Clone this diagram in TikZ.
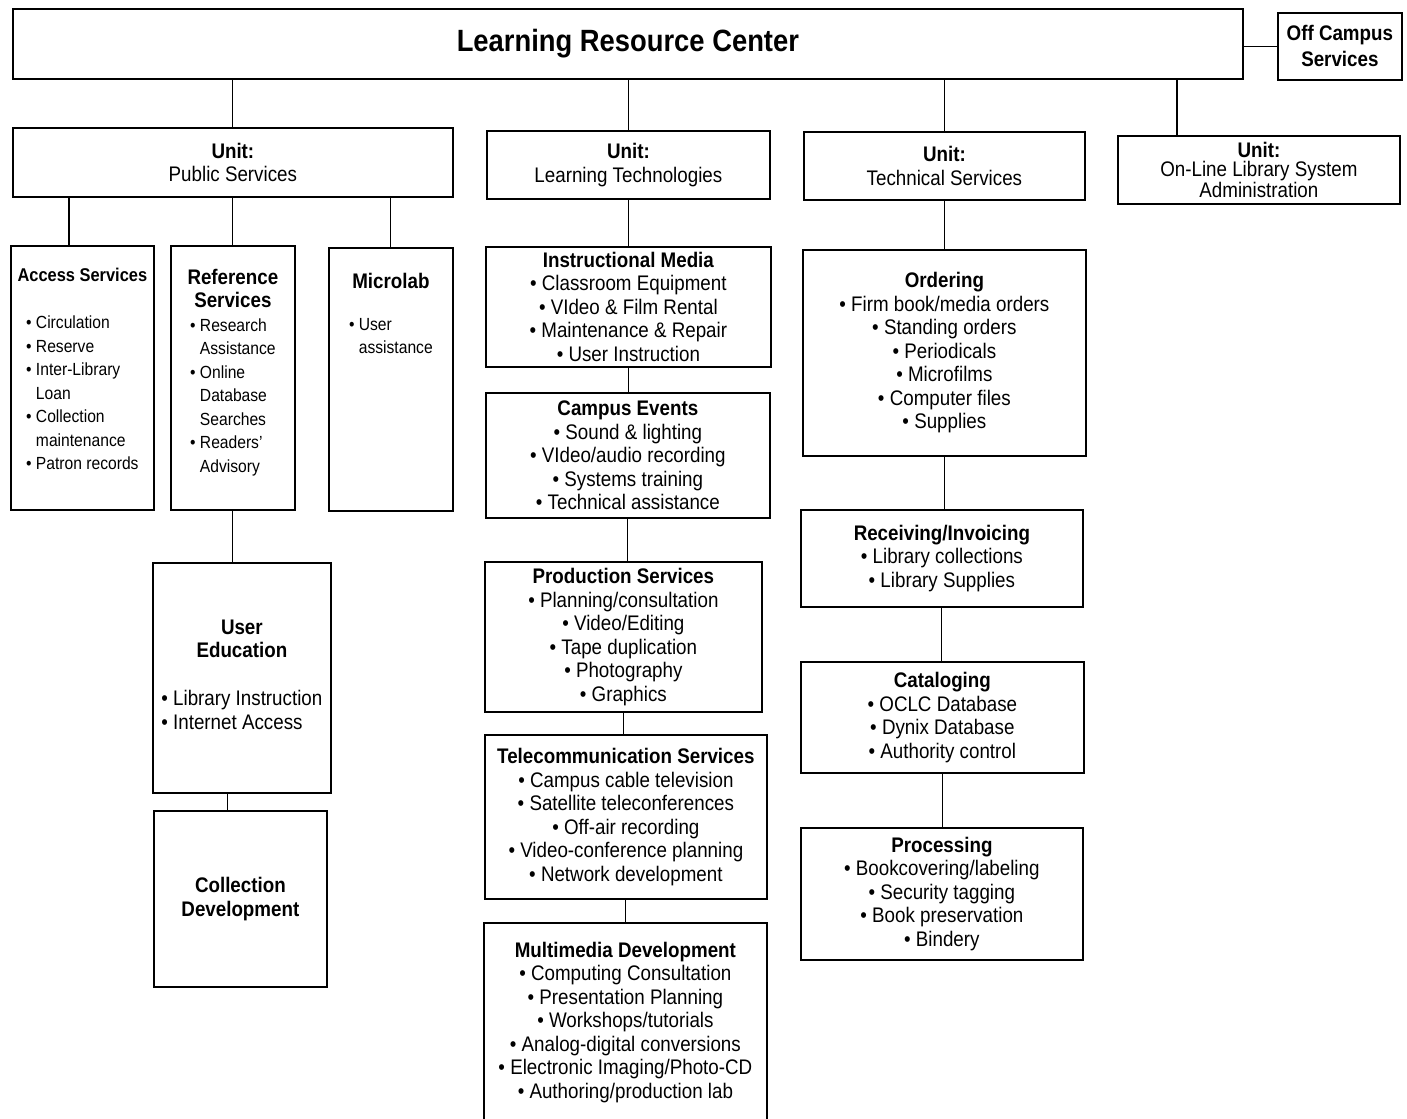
\documentclass[tikz,border=0pt]{standalone}
\usepackage{fontspec}
\setmainfont{Liberation Sans}[FakeStretch=0.89]

\newcommand{\itemfont}{\fontsize{12}{13.4}\selectfont}
\newcommand{\smitemfont}{\fontsize{10}{13.4}\selectfont}
\newcommand{\hdfont}{\fontsize{12}{13.4}\selectfont\bfseries}
\newcommand{\bpt}{\textbullet\ }
\newcommand{\bcont}{\hphantom{\textbullet\ }}

\begin{document}
\begin{tikzpicture}[
    x=0.2mm, y=-0.2mm,
    box/.style={draw, line width=1pt, anchor=north west, inner sep=2pt, align=center, font=\itemfont},
    sz/.style 2 args={minimum width=#1*0.2mm, minimum height=#2*0.2mm},
    txt/.style={anchor=north, inner sep=0pt, align=center, font=\itemfont},
    wire/.style={line width=0.6pt}
  ]
  \useasboundingbox[fill=white] (0,0) rectangle (1407,1119);

  % top level
  \node[box, sz={1230}{70}] (lrc) at (12,8) {\fontsize{17.5}{20}\selectfont\bfseries Learning Resource Center};
  \node[box, sz={124}{67}, font=\fontsize{12}{14.8}\selectfont\bfseries] (offc) at (1277,12) {Off Campus\\Services};

  % units
  \node[box, sz={440}{69}] (pub) at (12,127) {\textbf{Unit:}\\Public Services};
  \node[box, sz={283}{68}] (lt) at (486,130) {\textbf{Unit:}\\Learning Technologies};
  \node[box, sz={281}{68}] (ts) at (803,131) {\textbf{Unit:}\\Technical Services};
  \node[box, sz={282}{68}, font=\fontsize{12}{10.8}\selectfont] (online) at (1117,135) {\textbf{Unit:}\\On-Line Library System\\Administration};

  % public services
  \node[box, sz={143}{264}] (access) at (10,245) {};
  \node[txt, font=\smitemfont] (access-txt) at ([yshift=-4.6mm]access.north)
    {{\fontsize{10.5}{13.4}\selectfont\bfseries Access Services}\\[13.3pt]
     \begin{tabular}[t]{@{}l@{}}\bpt Circulation\\\bpt Reserve\\\bpt Inter-Library\\\bcont Loan\\
     \bpt Collection\\\bcont maintenance\\\bpt Patron records\end{tabular}};
  \node[box, sz={124}{264}] (ref) at (170,245) {};
  \node[txt, font=\smitemfont] (ref-txt) at ([yshift=-4.7mm]ref.north)
    {{\hdfont Reference}\\{\hdfont Services}\\
     \begin{tabular}[t]{@{}l@{}}\bpt Research\\\bcont Assistance\\\bpt Online\\\bcont Database\\
     \bcont Searches\\\bpt Readers'\\\bcont Advisory\end{tabular}};
  \node[box, sz={124}{263}] (micro) at (328,247) {};
  \node[txt, font=\smitemfont] (micro-txt) at ([yshift=-5.1mm]micro.north)
    {{\hdfont Microlab}\\[10.5pt]
     \begin{tabular}[t]{@{}l@{}}\bpt User\\\bcont assistance\end{tabular}};
  \node[box, sz={178}{230}] (uedu) at (152,562)
    {{\hdfont User}\\{\hdfont Education}\\[13.9pt]
     \begin{tabular}[t]{@{}l@{}}\bpt Library Instruction\\\bpt Internet Access\end{tabular}};
  \node[box, sz={173}{176}] (coll) at (153,810) {{\hdfont Collection}\\{\hdfont Development}};

  % learning technologies
  \node[box, sz={285}{120}] (instr) at (485,246)
    {{\hdfont Instructional Media}\\\bpt Classroom Equipment\\\bpt VIdeo \& Film Rental\\
     \bpt Maintenance \& Repair\\\bpt User Instruction};
  \node[box, sz={284}{125}] (events) at (485,392)
    {{\hdfont Campus Events}\\\bpt Sound \& lighting\\\bpt VIdeo/audio recording\\
     \bpt Systems training\\\bpt Technical assistance};
  \node[box, sz={277}{150}] (prod) at (484,561)
    {{\hdfont Production Services}\\\bpt Planning/consultation\\\bpt Video/Editing\\
     \bpt Tape duplication\\\bpt Photography\\\bpt Graphics};
  \node[box, sz={282}{164}] (tele) at (484,734)
    {{\hdfont Telecommunication Services}\\\bpt Campus cable television\\\bpt Satellite teleconferences\\
     \bpt Off-air recording\\\bpt Video-conference planning\\\bpt Network development};
  \node[box, sz={283}{230}] (multi) at (483,922) {};
  \node[txt] (multi-txt) at ([yshift=-3.9mm]multi.north)
    {{\hdfont Multimedia Development}\\\bpt Computing Consultation\\\bpt Presentation Planning\\
     \bpt Workshops/tutorials\\\bpt Analog-digital conversions\\\bpt Electronic Imaging/Photo-CD\\
     \bpt Authoring/production lab};

  % technical services
  \node[box, sz={283}{206}] (order) at (802,249)
    {{\hdfont Ordering}\\\bpt Firm book/media orders\\\bpt Standing orders\\\bpt Periodicals\\
     \bpt Microfilms\\\bpt Computer files\\\bpt Supplies};
  \node[box, sz={282}{97}] (recv) at (800,509)
    {{\hdfont Receiving/Invoicing}\\\bpt Library collections\\\bpt Library Supplies};
  \node[box, sz={283}{111}] (catal) at (800,661)
    {{\hdfont Cataloging}\\\bpt OCLC Database\\\bpt Dynix Database\\\bpt Authority control};
  \node[box, sz={282}{132}] (proc) at (800,827)
    {{\hdfont Processing}\\\bpt Bookcovering/labeling\\\bpt Security tagging\\
     \bpt Book preservation\\\bpt Bindery};

  % connectors
  \coordinate (online-top) at ([xshift=12mm]online.north west);
  \coordinate (access-top) at ([xshift=11.8mm]access.north west);
  \coordinate (uedu-bot) at ([xshift=-2.8mm]uedu.south);
  \draw[wire] (lrc.east |- offc.west) -- (offc.west);
  \draw[wire] (pub.north) -- (pub.north |- lrc.south);
  \draw[wire] (lt.north) -- (lt.north |- lrc.south);
  \draw[wire] (ts.north) -- (ts.north |- lrc.south);
  \draw[wire] (online-top) -- (online-top |- lrc.south);
  \draw[wire] (access-top) -- (access-top |- pub.south);
  \draw[wire] (ref.north) -- (ref.north |- pub.south);
  \draw[wire] (micro.north) -- (micro.north |- pub.south);
  \draw[wire] (ref.south) -- (ref.south |- uedu.north);
  \draw[wire] (uedu-bot) -- (uedu-bot |- coll.north);
  \draw[wire] (lt.south) -- (lt.south |- instr.north);
  \draw[wire] (instr.south) -- (instr.south |- events.north);
  \draw[wire] (events.south) -- (events.south |- prod.north);
  \draw[wire] (prod.south) -- (prod.south |- tele.north);
  \draw[wire] (tele.south) -- (tele.south |- multi.north);
  \draw[wire] (ts.south) -- (ts.south |- order.north);
  \draw[wire] (order.south) -- (order.south |- recv.north);
  \draw[wire] (recv.south) -- (recv.south |- catal.north);
  \draw[wire] (catal.south) -- (catal.south |- proc.north);
\end{tikzpicture}
\end{document}
